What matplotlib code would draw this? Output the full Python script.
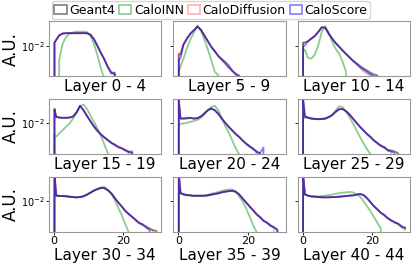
import matplotlib
matplotlib.use("Agg")
import matplotlib.pyplot as plt
from matplotlib.patches import Patch
import numpy as np

# bin edges (narrow first bin holds the spike at 0)
EDGES = [0, 0.3] + list(range(1, 31))

LABELS = ["Geant4", "CaloINN", "CaloDiffusion", "CaloScore"]
TITLES = ["Layer 0 - 4", "Layer 5 - 9", "Layer 10 - 14",
          "Layer 15 - 19", "Layer 20 - 24", "Layer 25 - 29",
          "Layer 30 - 34", "Layer 35 - 39", "Layer 40 - 44"]

# ---------------- Layer 0 - 4 ----------------
G4_0 = [0.012, 0.014, 0.018, 0.020, 0.0205, 0.0205, 0.0205, 0.0205, 0.0205, 0.0205, 0.0205,
        0.0188, 0.0145, 0.0098, 0.0066, 0.0045, 0.0029, 0.0021, 0.0019, 0, 0, 0, 0, 0, 0, 0, 0, 0, 0, 0, 0]
INN_0 = [0, 0, 0.0043, 0.0112, 0.0165, 0.020, 0.0215, 0.0224, 0.0224, 0.0224, 0.022,
         0.0174, 0.0112, 0.0057, 0.0027, 0.0015, 0, 0, 0, 0, 0, 0, 0, 0, 0, 0, 0, 0, 0, 0, 0]
DIFF_0 = [0.012, 0.0138, 0.0178, 0.0201, 0.0204, 0.0206, 0.0205, 0.0204, 0.0206, 0.0205, 0.0204,
          0.0186, 0.0147, 0.0100, 0.0067, 0.0044, 0.0030, 0.0022, 0.0021, 0, 0, 0, 0, 0, 0, 0, 0, 0, 0, 0, 0]
SCORE_0 = [0.0118, 0.0139, 0.0181, 0.0202, 0.0206, 0.0205, 0.0204, 0.0205, 0.0205, 0.0206, 0.0205,
           0.0189, 0.0146, 0.0099, 0.0065, 0.0046, 0.0029, 0.0020, 0.0021, 0, 0, 0, 0, 0, 0, 0, 0, 0, 0, 0, 0]

# ---------------- Layer 5 - 9 ----------------
G4_5 = [0.006, 0.006, 0.0106, 0.015, 0.020, 0.024, 0.030, 0.025, 0.018, 0.0129, 0.0093,
        0.0072, 0.0055, 0.0046, 0.0039, 0.0032, 0.0024, 0.0019, 0.0017, 0, 0, 0, 0, 0, 0, 0, 0, 0, 0, 0, 0]
INN_5 = [0.0022, 0.0030, 0.0047, 0.0087, 0.0144, 0.0211, 0.0322, 0.024, 0.0144, 0.0081, 0.0043,
         0.0022, 0.0018, 0, 0, 0, 0, 0, 0, 0, 0, 0, 0, 0, 0, 0, 0, 0, 0, 0, 0]
DIFF_5 = [0.0065, 0.0062, 0.0105, 0.0148, 0.0198, 0.0242, 0.0295, 0.0252, 0.0181, 0.0128, 0.0094,
          0.0071, 0.0056, 0.0044, 0.0035, 0.0029, 0.0024, 0.0019, 0.0016, 0, 0, 0, 0, 0, 0, 0, 0, 0, 0, 0, 0]
SCORE_5 = [0.0045, 0.0048, 0.0108, 0.0152, 0.0202, 0.0245, 0.0300, 0.0250, 0.0180, 0.0130, 0.0093,
           0.0073, 0.0055, 0.0045, 0.0036, 0.0028, 0.0023, 0.0020, 0.0018, 0, 0, 0, 0, 0, 0, 0, 0, 0, 0, 0, 0]

# ---------------- Layer 10 - 14 ----------------
G4_10 = [0.012, 0.012, 0.0128, 0.015, 0.0174, 0.022, 0.0288, 0.028, 0.020, 0.015, 0.0116,
         0.0094, 0.0076, 0.0062, 0.0051, 0.0042, 0.0036, 0.0031, 0.0027, 0.0024, 0.0021,
         0.0019, 0.0018, 0, 0, 0, 0, 0, 0, 0, 0]
INN_10 = [0.007, 0.008, 0.005, 0.0047, 0.006, 0.010, 0.022, 0.031, 0.021, 0.0126, 0.0083,
          0.0063, 0.004, 0.0022, 0, 0, 0, 0, 0, 0, 0, 0, 0, 0, 0, 0, 0, 0, 0, 0, 0]
DIFF_10 = [0.0115, 0.0118, 0.0126, 0.0148, 0.0172, 0.0218, 0.0285, 0.0282, 0.0205, 0.0152, 0.0118,
           0.0095, 0.0075, 0.0061, 0.0050, 0.0041, 0.0034, 0.0028, 0.0023, 0.0020, 0.0018,
           0, 0, 0, 0, 0, 0, 0, 0, 0, 0]
SCORE_10 = [0.0095, 0.010, 0.0128, 0.015, 0.0174, 0.022, 0.0288, 0.028, 0.020, 0.015, 0.0116,
            0.0094, 0.0076, 0.0062, 0.0051, 0.0042, 0.0035, 0.0029, 0.0025, 0.0022, 0.0019,
            0.00175, 0, 0, 0, 0, 0, 0, 0, 0, 0]

# ---------------- Layer 15 - 19 ----------------
G4_15 = [0.023, 0.0147, 0.0141, 0.0139, 0.0139, 0.0141, 0.015, 0.0188, 0.0277, 0.0215, 0.0155,
         0.0114, 0.0084, 0.0066, 0.0053, 0.0045, 0.0038, 0.0033, 0.0029, 0.0026, 0.0024,
         0.0022, 0.0020, 0.0018, 0, 0, 0, 0, 0, 0, 0]
INN_15 = [0.005, 0.0047, 0.0056, 0.0068, 0.0083, 0.010, 0.0133, 0.0188, 0.027, 0.030, 0.023,
          0.016, 0.011, 0.0075, 0.0049, 0.003, 0.0018, 0, 0, 0, 0, 0, 0, 0, 0, 0, 0, 0, 0, 0, 0]
DIFF_15 = [0.024, 0.0150, 0.0140, 0.0138, 0.0140, 0.0140, 0.0151, 0.0186, 0.0275, 0.0217, 0.0154,
           0.0115, 0.0083, 0.0067, 0.0052, 0.0046, 0.0037, 0.0034, 0.0028, 0.0027, 0.0023,
           0.0021, 0.0019, 0, 0, 0, 0, 0, 0, 0, 0]
SCORE_15 = [0.022, 0.0145, 0.0142, 0.0139, 0.0138, 0.0142, 0.0149, 0.0190, 0.0278, 0.0214, 0.0156,
            0.0113, 0.0085, 0.0065, 0.0054, 0.0044, 0.0039, 0.0032, 0.0030, 0.0025, 0.0024,
            0.0021, 0.0019, 0.0020, 0, 0, 0, 0, 0, 0, 0]

# ---------------- Layer 20 - 24 ----------------
G4_20 = [0.038, 0.0133, 0.0133, 0.0133, 0.0139, 0.0133, 0.0136, 0.015, 0.0178, 0.0215, 0.0237,
         0.0215, 0.0175, 0.0133, 0.0104, 0.0083, 0.0067, 0.0055, 0.0046, 0.0038, 0.0031,
         0.0027, 0.0023, 0.0020, 0.0018, 0, 0, 0, 0, 0, 0]
INN_20 = [0.0095, 0.0098, 0.010, 0.0104, 0.011, 0.0116, 0.0123, 0.0139, 0.0168, 0.0215, 0.026,
          0.028, 0.0215, 0.0139, 0.0087, 0.006, 0.0038, 0.0024, 0.0017, 0, 0, 0, 0, 0, 0, 0, 0, 0, 0, 0, 0]
DIFF_20 = [0.039, 0.0135, 0.0132, 0.0134, 0.0137, 0.0134, 0.0135, 0.0151, 0.0177, 0.0216, 0.0235,
           0.0216, 0.0174, 0.0134, 0.0103, 0.0084, 0.0066, 0.0056, 0.0045, 0.0039, 0.0030,
           0.0028, 0.0022, 0.0021, 0, 0, 0, 0, 0, 0, 0]
SCORE_20 = [0.037, 0.0132, 0.0134, 0.0140, 0.0138, 0.0132, 0.0137, 0.0149, 0.0179, 0.0214, 0.0238,
            0.0214, 0.0176, 0.0132, 0.0105, 0.0082, 0.0068, 0.0054, 0.0047, 0.0037, 0.0032,
            0.0026, 0.0024, 0.0019, 0.0018, 0.0025, 0, 0, 0, 0, 0]

# ---------------- Layer 25 - 29 ----------------
G4_25 = [0.04, 0.015, 0.0141, 0.0133, 0.013, 0.0128, 0.013, 0.0133, 0.0144, 0.0162, 0.0195,
         0.0228, 0.023, 0.0204, 0.0168, 0.0133, 0.0104, 0.0083, 0.0067, 0.0055, 0.0046,
         0.0038, 0.0032, 0.0028, 0.0025, 0.0022, 0.0021, 0.0020, 0.0018, 0, 0]
INN_25 = [0.013, 0.014, 0.0138, 0.0133, 0.013, 0.0128, 0.013, 0.0133, 0.0144, 0.0165, 0.021,
          0.027, 0.026, 0.0195, 0.0144, 0.010, 0.0068, 0.0046, 0.0032, 0.0023, 0.0017,
          0, 0, 0, 0, 0, 0, 0, 0, 0, 0]
DIFF_25 = [0.041, 0.0152, 0.0140, 0.0134, 0.0129, 0.0127, 0.0131, 0.0134, 0.0143, 0.0163, 0.0194,
           0.0226, 0.0231, 0.0205, 0.0167, 0.0134, 0.0103, 0.0084, 0.0066, 0.0056, 0.0045,
           0.0039, 0.0031, 0.0029, 0.0024, 0.0021, 0.0019, 0, 0, 0, 0]
SCORE_25 = [0.039, 0.0148, 0.0142, 0.0132, 0.0131, 0.0129, 0.0129, 0.0132, 0.0145, 0.0161, 0.0196,
            0.0229, 0.0229, 0.0203, 0.0169, 0.0132, 0.0105, 0.0082, 0.0068, 0.0054, 0.0047,
            0.0037, 0.0033, 0.0027, 0.0026, 0.0021, 0.0020, 0.0018, 0, 0, 0]

# ---------------- Layer 30 - 34 ----------------
G4_30 = [0.05, 0.0141, 0.0136, 0.0136, 0.0134, 0.0131, 0.0128, 0.0126, 0.0128, 0.0134, 0.0147,
         0.0165, 0.0185, 0.0203, 0.0215, 0.0215, 0.019, 0.0159, 0.0121, 0.0094, 0.0074,
         0.0058, 0.0048, 0.0041, 0.0034, 0.0029, 0.0026, 0.0023, 0.0021, 0.0019, 0.0018]
INN_30 = [0.013, 0.0138, 0.0136, 0.0135, 0.0133, 0.013, 0.0127, 0.0126, 0.0128, 0.0135, 0.0148,
          0.0167, 0.0188, 0.0208, 0.0225, 0.023, 0.0195, 0.0155, 0.0108, 0.0069, 0.0045,
          0.0027, 0.0017, 0, 0, 0, 0, 0, 0, 0, 0]
DIFF_30 = [0.05, 0.0143, 0.0135, 0.0137, 0.0133, 0.0132, 0.0127, 0.0127, 0.0127, 0.0135, 0.0146,
           0.0166, 0.0184, 0.0204, 0.0214, 0.0216, 0.0189, 0.0160, 0.0120, 0.0095, 0.0073,
           0.0059, 0.0047, 0.0042, 0.0033, 0.0030, 0.0025, 0.0024, 0.0020, 0.0018, 0]
SCORE_30 = [0.05, 0.0140, 0.0138, 0.0135, 0.0135, 0.0130, 0.0129, 0.0125, 0.0129, 0.0133, 0.0148,
            0.0164, 0.0186, 0.0202, 0.0216, 0.0214, 0.0191, 0.0158, 0.0122, 0.0093, 0.0075,
            0.0057, 0.0049, 0.0040, 0.0035, 0.0028, 0.0027, 0.0022, 0.0019, 0, 0]

# ---------------- Layer 35 - 39 ----------------
G4_35 = [0.05, 0.0162, 0.015, 0.0144, 0.0141, 0.0138, 0.0138, 0.0138, 0.0138, 0.0141, 0.0147,
         0.0153, 0.0159, 0.0168, 0.0174, 0.0181, 0.0184, 0.0174, 0.015, 0.0119, 0.0094,
         0.0075, 0.006, 0.0048, 0.004, 0.0033, 0.0029, 0.0025, 0.0022, 0.002, 0]
INN_35 = [0.0155, 0.016, 0.0148, 0.0142, 0.014, 0.0138, 0.0138, 0.0139, 0.0141, 0.0147, 0.0155,
          0.0163, 0.0172, 0.0183, 0.0193, 0.0198, 0.0198, 0.018, 0.0133, 0.010, 0.0068,
          0.0042, 0.0026, 0.0017, 0, 0, 0, 0, 0, 0, 0]
DIFF_35 = [0.05, 0.0164, 0.0149, 0.0145, 0.0140, 0.0139, 0.0137, 0.0139, 0.0137, 0.0142, 0.0146,
           0.0154, 0.0158, 0.0169, 0.0173, 0.0182, 0.0183, 0.0175, 0.0149, 0.0120, 0.0093,
           0.0076, 0.0059, 0.0049, 0.0039, 0.0034, 0.0028, 0.0026, 0.0021, 0, 0]
SCORE_35 = [0.05, 0.0160, 0.0151, 0.0143, 0.0142, 0.0137, 0.0139, 0.0137, 0.0139, 0.0140, 0.0148,
            0.0152, 0.0160, 0.0167, 0.0175, 0.0180, 0.0185, 0.0173, 0.0151, 0.0118, 0.0095,
            0.0074, 0.0061, 0.0047, 0.0041, 0.0032, 0.0030, 0.0024, 0.0023, 0.0019, 0]

# ---------------- Layer 40 - 44 ----------------
G4_40 = [0.05, 0.015, 0.0139, 0.0133, 0.0131, 0.0128, 0.0126, 0.0126, 0.0126, 0.0128, 0.0128,
         0.0131, 0.0133, 0.0136, 0.0139, 0.0141, 0.0147, 0.0153, 0.0144, 0.0121, 0.0096,
         0.0076, 0.0063, 0.0052, 0.0045, 0.0038, 0.0033, 0.003, 0.0027, 0.0024, 0.0021]
INN_40 = [0.0145, 0.0148, 0.0139, 0.0134, 0.0133, 0.0134, 0.0136, 0.0139, 0.0143, 0.0148, 0.0155,
          0.016, 0.0165, 0.0168, 0.0172, 0.0168, 0.015, 0.0131, 0.0102, 0.0076, 0.0057,
          0.0041, 0.0029, 0.0021, 0, 0, 0, 0, 0, 0, 0]
DIFF_40 = [0.05, 0.0152, 0.0138, 0.0134, 0.0130, 0.0129, 0.0125, 0.0127, 0.0125, 0.0129, 0.0127,
           0.0132, 0.0132, 0.0137, 0.0138, 0.0142, 0.0146, 0.0154, 0.0143, 0.0122, 0.0095,
           0.0077, 0.0062, 0.0053, 0.0044, 0.0039, 0.0032, 0.0031, 0.0026, 0.0022, 0.0019]
SCORE_40 = [0.05, 0.0149, 0.0140, 0.0132, 0.0132, 0.0127, 0.0127, 0.0125, 0.0127, 0.0127, 0.0129,
            0.0130, 0.0134, 0.0135, 0.0140, 0.0140, 0.0148, 0.0152, 0.0145, 0.0120, 0.0097,
            0.0075, 0.0064, 0.0051, 0.0046, 0.0037, 0.0034, 0.0029, 0.0028, 0.0023, 0.0022]

PANELS = [
    (G4_0, INN_0, DIFF_0, SCORE_0),
    (G4_5, INN_5, DIFF_5, SCORE_5),
    (G4_10, INN_10, DIFF_10, SCORE_10),
    (G4_15, INN_15, DIFF_15, SCORE_15),
    (G4_20, INN_20, DIFF_20, SCORE_20),
    (G4_25, INN_25, DIFF_25, SCORE_25),
    (G4_30, INN_30, DIFF_30, SCORE_30),
    (G4_35, INN_35, DIFF_35, SCORE_35),
    (G4_40, INN_40, DIFF_40, SCORE_40),
]

STYLES = [
    dict(color="black", alpha=0.5),
    dict(color="#1f9a1f", alpha=0.5),
    dict(color="red", alpha=0.3),
    dict(color="blue", alpha=0.5),
]

edges = np.array(EDGES, dtype=float)
centers = 0.5 * (edges[:-1] + edges[1:])

fig, axes = plt.subplots(3, 3, figsize=(4.15, 2.66), dpi=100)
fig.subplots_adjust(left=0.118, right=0.988, top=0.921, bottom=0.128,
                    wspace=0.106, hspace=0.41)

for i, ax in enumerate(axes.flat):
    r, c = divmod(i, 3)
    for vals, lab, st in zip(PANELS[i], LABELS, STYLES):
        xs = np.concatenate([[edges[0]], centers])
        ys = np.concatenate([[0.0], np.array(vals, dtype=float)])
        ax.plot(xs, ys, linewidth=1.3, label=lab, **st)
    ax.set_yscale("log")
    ax.set_ylim(10 ** -2.767, 10 ** -1.383)
    ax.set_xlim(-1.43, 30.9)
    ax.set_yticks([1e-2])
    ax.yaxis.set_minor_locator(matplotlib.ticker.NullLocator())
    ax.set_xticks([0, 20])
    ax.tick_params(axis="x", labelsize=8, length=2, width=0.6, pad=1)
    ax.tick_params(axis="y", labelsize=7, length=2, width=0.6, pad=1)
    if c != 0:
        ax.set_yticklabels([])
    else:
        ax.set_ylabel("A.U.", fontsize=12)
        ax.yaxis.set_label_coords(-0.255, 0.5)
    if r != 2:
        ax.set_xticklabels([])
        ax.tick_params(axis="x", length=0)
    ax.set_xlabel(TITLES[i], fontsize=11, labelpad=1)
    for s in ax.spines.values():
        s.set_color("0.6")
        s.set_linewidth(0.8)

handles = [Patch(facecolor="none", edgecolor=st["color"], alpha=st["alpha"], linewidth=1.2)
           for st in STYLES]
fig.legend(handles, LABELS, loc="upper center", bbox_to_anchor=(0.508, 1.0),
           ncol=4, fontsize=9, frameon=True, handlelength=1.0, handleheight=0.7,
           handletextpad=0.2, columnspacing=0.3, borderpad=0.2,
           borderaxespad=0.1)

fig.savefig("out.png", dpi=100)
